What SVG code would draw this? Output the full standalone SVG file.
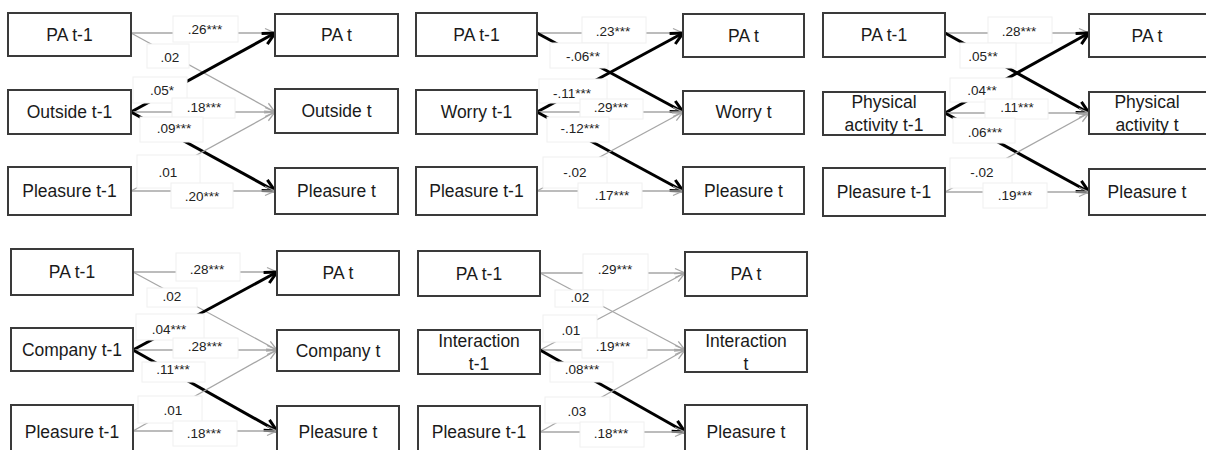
<svg xmlns="http://www.w3.org/2000/svg" width="1206" height="450" viewBox="0 0 1206 450">
<defs>
<style>
.box{fill:#fff;stroke:#3a3a3a;stroke-width:2}
.nt{font-family:"Liberation Sans",Arial,sans-serif;font-size:17.5px;fill:#1a1a1a;text-anchor:middle}
.g{stroke:#a6a6a6;stroke-width:1.3;fill:none;marker-end:url(#ag)}
.b{stroke:#000;stroke-width:3;fill:none;marker-end:url(#ab)}
.lb{fill:#fff;stroke:#f0f0f0;stroke-width:1}
.lt{font-family:"Liberation Sans",Arial,sans-serif;font-size:13.5px;fill:#222;text-anchor:middle}
</style>
<marker id="ag" viewBox="0 0 12 12" refX="11" refY="6" markerWidth="12" markerHeight="12" markerUnits="userSpaceOnUse" orient="auto"><path d="M1,1.5 L11,6 L1,10.5" fill="none" stroke="#a6a6a6" stroke-width="1.3"/></marker>
<marker id="ab" viewBox="0 0 16 16" refX="14" refY="8" markerWidth="16" markerHeight="16" markerUnits="userSpaceOnUse" orient="auto"><path d="M2,2 L14,8 L2,14" fill="none" stroke="#000" stroke-width="3"/></marker>
</defs>
<rect width="1206" height="450" fill="#fff"/>
<g id="connectors">
<line class="g" x1="131" y1="33" x2="275" y2="33"/>
<line class="g" x1="131" y1="33" x2="275" y2="112"/>
<line class="b" x1="131" y1="112" x2="275" y2="33"/>
<line class="g" x1="131" y1="112" x2="275" y2="112"/>
<line class="b" x1="131" y1="112" x2="275" y2="191"/>
<line class="g" x1="131" y1="191" x2="275" y2="112"/>
<line class="g" x1="131" y1="191" x2="275" y2="191"/>
<line class="g" x1="537" y1="33" x2="683" y2="33"/>
<line class="b" x1="537" y1="33" x2="683" y2="112"/>
<line class="b" x1="537" y1="112" x2="683" y2="33"/>
<line class="g" x1="537" y1="112" x2="683" y2="112"/>
<line class="b" x1="537" y1="112" x2="683" y2="191"/>
<line class="g" x1="537" y1="191" x2="683" y2="112"/>
<line class="g" x1="537" y1="191" x2="683" y2="191"/>
<line class="g" x1="945" y1="33" x2="1089" y2="33"/>
<line class="b" x1="945" y1="33" x2="1089" y2="113"/>
<line class="b" x1="945" y1="113" x2="1089" y2="33"/>
<line class="g" x1="945" y1="113" x2="1089" y2="113"/>
<line class="b" x1="945" y1="113" x2="1089" y2="192"/>
<line class="g" x1="945" y1="192" x2="1089" y2="113"/>
<line class="g" x1="945" y1="192" x2="1089" y2="192"/>
<line class="g" x1="133" y1="272" x2="277" y2="272"/>
<line class="g" x1="133" y1="272" x2="277" y2="350"/>
<line class="b" x1="133" y1="350" x2="277" y2="272"/>
<line class="g" x1="133" y1="350" x2="277" y2="350"/>
<line class="b" x1="133" y1="350" x2="277" y2="431"/>
<line class="g" x1="133" y1="431" x2="277" y2="350"/>
<line class="g" x1="133" y1="431" x2="277" y2="431"/>
<line class="g" x1="540" y1="273" x2="685" y2="273"/>
<line class="g" x1="540" y1="273" x2="685" y2="350"/>
<line class="g" x1="540" y1="350" x2="685" y2="273"/>
<line class="g" x1="540" y1="350" x2="685" y2="350"/>
<line class="b" x1="540" y1="350" x2="685" y2="432"/>
<line class="g" x1="540" y1="432" x2="685" y2="350"/>
<line class="g" x1="540" y1="432" x2="685" y2="432"/>
</g>
<g id="labels">
<rect class="lb" x="173" y="16" width="65" height="26"/><text class="lt" x="205" y="34">.26***</text>
<rect class="lb" x="147" y="44" width="42" height="24"/><text class="lt" x="170" y="62">.02</text>
<rect class="lb" x="133" y="77" width="54" height="26"/><text class="lt" x="162" y="95">.05*</text>
<rect class="lb" x="172" y="98" width="63" height="20"/><text class="lt" x="204" y="112">.18***</text>
<rect class="lb" x="140" y="117" width="63" height="25"/><text class="lt" x="174" y="133">.09***</text>
<rect class="lb" x="137" y="155" width="63" height="33"/><text class="lt" x="168" y="177">.01</text>
<rect class="lb" x="171" y="183" width="62" height="25"/><text class="lt" x="202" y="201">.20***</text>
<rect class="lb" x="582" y="17" width="64" height="26"/><text class="lt" x="613" y="36">.23***</text>
<rect class="lb" x="550" y="43" width="58" height="25"/><text class="lt" x="583" y="61">-.06**</text>
<rect class="lb" x="539" y="79" width="68" height="24"/><text class="lt" x="572" y="98">-.11***</text>
<rect class="lb" x="580" y="99" width="63" height="20"/><text class="lt" x="611" y="112">.29***</text>
<rect class="lb" x="547" y="117" width="62" height="25"/><text class="lt" x="580" y="133">-.12***</text>
<rect class="lb" x="543" y="157" width="64" height="31"/><text class="lt" x="575" y="177">-.02</text>
<rect class="lb" x="578" y="183" width="64" height="25"/><text class="lt" x="612" y="200">.17***</text>
<rect class="lb" x="988" y="17" width="64" height="26"/><text class="lt" x="1019" y="36">.28***</text>
<rect class="lb" x="960" y="43" width="56" height="25"/><text class="lt" x="983" y="61">.05**</text>
<rect class="lb" x="950" y="78" width="62" height="24"/><text class="lt" x="982" y="95">.04**</text>
<rect class="lb" x="985" y="99" width="63" height="20"/><text class="lt" x="1017" y="112">.11***</text>
<rect class="lb" x="953" y="118" width="62" height="25"/><text class="lt" x="985" y="137">.06***</text>
<rect class="lb" x="950" y="158" width="62" height="30"/><text class="lt" x="982" y="177">-.02</text>
<rect class="lb" x="983" y="183" width="64" height="25"/><text class="lt" x="1015" y="200">.19***</text>
<rect class="lb" x="176" y="253" width="64" height="28"/><text class="lt" x="207" y="274">.28***</text>
<rect class="lb" x="147" y="288" width="50" height="19"/><text class="lt" x="172" y="301">.02</text>
<rect class="lb" x="136" y="314" width="68" height="26"/><text class="lt" x="169" y="334">.04***</text>
<rect class="lb" x="173" y="338" width="65" height="20"/><text class="lt" x="205" y="351">.28***</text>
<rect class="lb" x="142" y="362" width="63" height="20"/><text class="lt" x="173" y="374">.11***</text>
<rect class="lb" x="138" y="396" width="64" height="27"/><text class="lt" x="173" y="415">.01</text>
<rect class="lb" x="173" y="421" width="64" height="25"/><text class="lt" x="204" y="438">.18***</text>
<rect class="lb" x="583" y="254" width="65" height="36"/><text class="lt" x="615" y="274">.29***</text>
<rect class="lb" x="555" y="290" width="48" height="17"/><text class="lt" x="580" y="302">.02</text>
<rect class="lb" x="543" y="315" width="54" height="27"/><text class="lt" x="571" y="335">.01</text>
<rect class="lb" x="582" y="338" width="65" height="20"/><text class="lt" x="613" y="351">.19***</text>
<rect class="lb" x="550" y="362" width="63" height="20"/><text class="lt" x="582" y="374">.08***</text>
<rect class="lb" x="545" y="397" width="65" height="26"/><text class="lt" x="577" y="416">.03</text>
<rect class="lb" x="580" y="422" width="64" height="25"/><text class="lt" x="611" y="438">.18***</text>
</g>
<g id="p1-pa-t1"><rect class="box" x="8" y="13" width="123" height="43"/><text class="nt" x="69.5" y="40.5">PA t-1</text></g>
<g id="p1-pa-t"><rect class="box" x="275" y="14" width="123" height="42"/><text class="nt" x="336.5" y="41">PA t</text></g>
<g id="p1-out-t1"><rect class="box" x="8" y="90" width="123" height="44"/><text class="nt" x="69.5" y="118">Outside t-1</text></g>
<g id="p1-out-t"><rect class="box" x="275" y="89" width="123" height="44"/><text class="nt" x="336.5" y="117">Outside t</text></g>
<g id="p1-ple-t1"><rect class="box" x="8" y="167" width="123" height="48"/><text class="nt" x="69.5" y="197">Pleasure t-1</text></g>
<g id="p1-ple-t"><rect class="box" x="275" y="168" width="123" height="46"/><text class="nt" x="336.5" y="197">Pleasure t</text></g>
<g id="p2-pa-t1"><rect class="box" x="416" y="13" width="121" height="43"/><text class="nt" x="476.5" y="40.5">PA t-1</text></g>
<g id="p2-pa-t"><rect class="box" x="683" y="14" width="121" height="43"/><text class="nt" x="743.5" y="41.5">PA t</text></g>
<g id="p2-wor-t1"><rect class="box" x="416" y="90" width="121" height="44"/><text class="nt" x="476.5" y="118">Worry t-1</text></g>
<g id="p2-wor-t"><rect class="box" x="683" y="91" width="121" height="43"/><text class="nt" x="743.5" y="118">Worry t</text></g>
<g id="p2-ple-t1"><rect class="box" x="416" y="167" width="121" height="48"/><text class="nt" x="476.5" y="197">Pleasure t-1</text></g>
<g id="p2-ple-t"><rect class="box" x="683" y="167" width="121" height="47"/><text class="nt" x="743.5" y="197">Pleasure t</text></g>
<g id="p3-pa-t1"><rect class="box" x="823" y="13" width="122" height="44"/><text class="nt" x="884" y="41">PA t-1</text></g>
<g id="p3-pa-t"><rect class="box" x="1089" y="14" width="125" height="43"/><text class="nt" x="1147" y="41.5">PA t</text></g>
<g id="p3-phy-t1"><rect class="box" x="823" y="92" width="122" height="43"/><text class="nt" x="884" y="108">Physical</text><text class="nt" x="884" y="131">activity t-1</text></g>
<g id="p3-phy-t"><rect class="box" x="1089" y="92" width="125" height="42"/><text class="nt" x="1147" y="108">Physical</text><text class="nt" x="1147" y="131">activity t</text></g>
<g id="p3-ple-t1"><rect class="box" x="823" y="168" width="122" height="48"/><text class="nt" x="884" y="198">Pleasure t-1</text></g>
<g id="p3-ple-t"><rect class="box" x="1089" y="169" width="125" height="46"/><text class="nt" x="1147" y="198">Pleasure t</text></g>
<g id="p4-pa-t1"><rect class="box" x="11" y="249" width="122" height="46"/><text class="nt" x="72" y="278">PA t-1</text></g>
<g id="p4-pa-t"><rect class="box" x="277" y="251" width="122" height="44"/><text class="nt" x="338" y="279">PA t</text></g>
<g id="p4-com-t1"><rect class="box" x="11" y="328" width="122" height="43"/><text class="nt" x="72" y="355.5">Company t-1</text></g>
<g id="p4-com-t"><rect class="box" x="277" y="330" width="122" height="41"/><text class="nt" x="338" y="356.5">Company t</text></g>
<g id="p4-ple-t1"><rect class="box" x="11" y="405" width="122" height="55"/><text class="nt" x="72" y="438">Pleasure t-1</text></g>
<g id="p4-ple-t"><rect class="box" x="277" y="406" width="122" height="54"/><text class="nt" x="338" y="438">Pleasure t</text></g>
<g id="p5-pa-t1"><rect class="box" x="418" y="251" width="122" height="45"/><text class="nt" x="479" y="279.5">PA t-1</text></g>
<g id="p5-pa-t"><rect class="box" x="685" y="252" width="122" height="44"/><text class="nt" x="746" y="280">PA t</text></g>
<g id="p5-int-t1"><rect class="box" x="418" y="330" width="122" height="44"/><text class="nt" x="479" y="347">Interaction</text><text class="nt" x="479" y="370">t-1</text></g>
<g id="p5-int-t"><rect class="box" x="685" y="330" width="122" height="42"/><text class="nt" x="746" y="347">Interaction</text><text class="nt" x="746" y="370">t</text></g>
<g id="p5-ple-t1"><rect class="box" x="418" y="406" width="122" height="54"/><text class="nt" x="479" y="438">Pleasure t-1</text></g>
<g id="p5-ple-t"><rect class="box" x="685" y="405" width="122" height="55"/><text class="nt" x="746" y="438">Pleasure t</text></g>
</svg>
